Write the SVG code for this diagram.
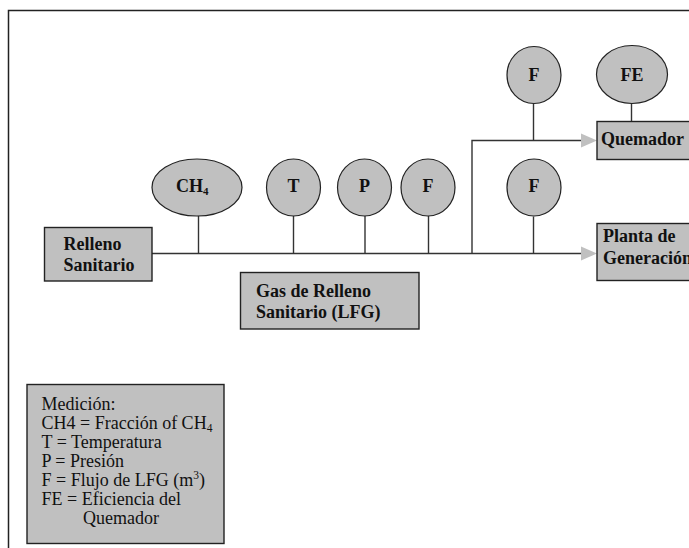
<svg xmlns="http://www.w3.org/2000/svg" width="689" height="548" viewBox="0 0 689 548">
<style>
.box{fill:#c0c0c0;stroke:#222;stroke-width:1.4}
.el{fill:#c0c0c0;stroke:#222;stroke-width:1.2}
.ln{fill:none;stroke:#333;stroke-width:1.4}
.ah{fill:#c0c0c0;stroke:none}
.b{font-family:"Liberation Serif","Times New Roman",serif;font-weight:bold;font-size:18px;fill:#111}
.c{font-family:"Liberation Serif","Times New Roman",serif;font-weight:bold;font-size:18px;fill:#111;text-anchor:middle}
.r{font-family:"Liberation Serif","Times New Roman",serif;font-size:18px;fill:#111}
</style>
<rect width="689" height="548" fill="#fff"/>
<path d="M8.5,548 V10.5 H689" fill="none" stroke="#222" stroke-width="1.5"/>
<g id="connectors">
<path class="ln" d="M152,253.5 H581"/>
<polygon class="ah" points="581,246.5 597,253.5 581,260.5"/>
<path class="ln" d="M472,253.5 V140.5 H581"/>
<polygon class="ah" points="581,133.5 597,140.5 581,147.5"/>
<path class="ln" d="M198.5,216 V253.5"/>
<path class="ln" d="M293.5,216 V253.5"/>
<path class="ln" d="M365,216 V253.5"/>
<path class="ln" d="M428.5,216 V253.5"/>
<path class="ln" d="M533.5,216.5 V253.5"/>
<path class="ln" d="M533.5,103.5 V140.5"/>
<path class="ln" d="M631.5,103 V121.5"/>
</g>
<g id="relleno">
<rect class="box" x="44.5" y="227.5" width="107.5" height="53.5"/>
<text class="b" x="63.5" y="250">Relleno</text>
<text class="b" x="63.5" y="271">Sanitario</text>
</g>
<g id="gas">
<rect class="box" x="240.5" y="272.5" width="178.5" height="56.5"/>
<text class="b" x="256" y="297">Gas de Relleno</text>
<text class="b" x="256" y="318">Sanitario (LFG)</text>
</g>
<g id="planta">
<rect class="box" x="597" y="223.5" width="100" height="57"/>
<text class="b" x="603" y="242">Planta de</text>
<text class="b" x="603" y="264">Generación</text>
</g>
<g id="quemador">
<rect class="box" x="597" y="121.5" width="100" height="38"/>
<text class="b" x="601" y="145">Quemador</text>
</g>
<g id="m-ch4">
<ellipse class="el" cx="197" cy="187.5" rx="45" ry="28.5"/>
<text class="b" x="176" y="191.5">CH<tspan font-size="11" dy="3">4</tspan></text>
</g>
<g id="m-t">
<ellipse class="el" cx="293.5" cy="187.5" rx="27" ry="28.5"/>
<text class="c" x="293.5" y="192">T</text>
</g>
<g id="m-p">
<ellipse class="el" cx="364.5" cy="187.5" rx="27" ry="28.5"/>
<text class="c" x="364.5" y="192">P</text>
</g>
<g id="m-f1">
<ellipse class="el" cx="428" cy="187.5" rx="27" ry="28.5"/>
<text class="c" x="428" y="192">F</text>
</g>
<g id="m-f2">
<ellipse class="el" cx="534" cy="187.5" rx="27" ry="28.5"/>
<text class="c" x="534" y="192">F</text>
</g>
<g id="m-f3">
<ellipse class="el" cx="534" cy="75" rx="27" ry="28.5"/>
<text class="c" x="534" y="80.5">F</text>
</g>
<g id="m-fe">
<ellipse class="el" cx="632" cy="74.5" rx="35.5" ry="29"/>
<text class="c" x="632" y="80.5">FE</text>
</g>
<g id="legend">
<rect class="box" x="27" y="384.5" width="197" height="159"/>
<text class="r" x="41.5" y="410">Medición:</text>
<text class="r" x="41.5" y="429">CH4 = Fracción of CH<tspan font-size="11.5" dy="3">4</tspan></text>
<text class="r" x="41.5" y="448">T = Temperatura</text>
<text class="r" x="41.5" y="467">P = Presión</text>
<text class="r" x="41.5" y="486">F = Flujo de LFG (m<tspan font-size="11.5" dy="-7">3</tspan><tspan dy="7">)</tspan></text>
<text class="r" x="41.5" y="505">FE = Eficiencia del</text>
<text class="r" x="83" y="524">Quemador</text>
</g>
</svg>
